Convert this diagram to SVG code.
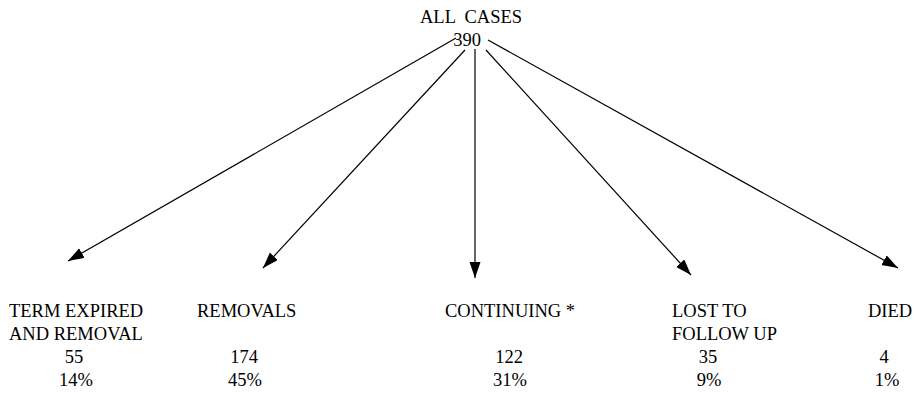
<svg xmlns="http://www.w3.org/2000/svg" width="918" height="393" viewBox="0 0 918 393">
<style>
text{font-family:"Liberation Serif","Times New Roman",serif;font-size:18.5px;fill:#000}
.m{text-anchor:middle}
.c line{stroke:#000;stroke-width:1.2;marker-end:url(#ah)}
</style>
<defs>
<marker id="ah" markerUnits="userSpaceOnUse" markerWidth="17" markerHeight="12" refX="16" refY="5.5" orient="auto">
<path d="M0,0 L16,5.5 L0,11 Z" fill="#000"/>
</marker>
</defs>
<rect width="918" height="393" fill="#fff"/>
<g id="all-cases">
<text x="420" y="23" xml:space="preserve">ALL  CASES</text>
<text class="m" x="467" y="46">390</text>
</g>
<g class="c" id="connectors">
<line x1="456" y1="38" x2="68" y2="261"/>
<line x1="465" y1="50" x2="263" y2="268"/>
<line x1="475" y1="49" x2="475" y2="278"/>
<line x1="486" y1="50" x2="691" y2="275"/>
<line x1="488" y1="40" x2="898" y2="268"/>
</g>
<g id="term-expired">
<text x="9" y="317">TERM EXPIRED</text>
<text x="9" y="340">AND REMOVAL</text>
<text class="m" x="74" y="363">55</text>
<text class="m" x="76" y="386">14%</text>
</g>
<g id="removals">
<text x="197" y="317">REMOVALS</text>
<text class="m" x="244" y="363">174</text>
<text class="m" x="245" y="386">45%</text>
</g>
<g id="continuing">
<text x="445" y="317">CONTINUING *</text>
<text class="m" x="509" y="363">122</text>
<text class="m" x="510" y="386">31%</text>
</g>
<g id="lost">
<text x="672" y="317">LOST TO</text>
<text x="672" y="340">FOLLOW UP</text>
<text class="m" x="708" y="363">35</text>
<text class="m" x="709" y="386">9%</text>
</g>
<g id="died">
<text x="868" y="317">DIED</text>
<text class="m" x="884" y="363">4</text>
<text class="m" x="887" y="386">1%</text>
</g>
</svg>
